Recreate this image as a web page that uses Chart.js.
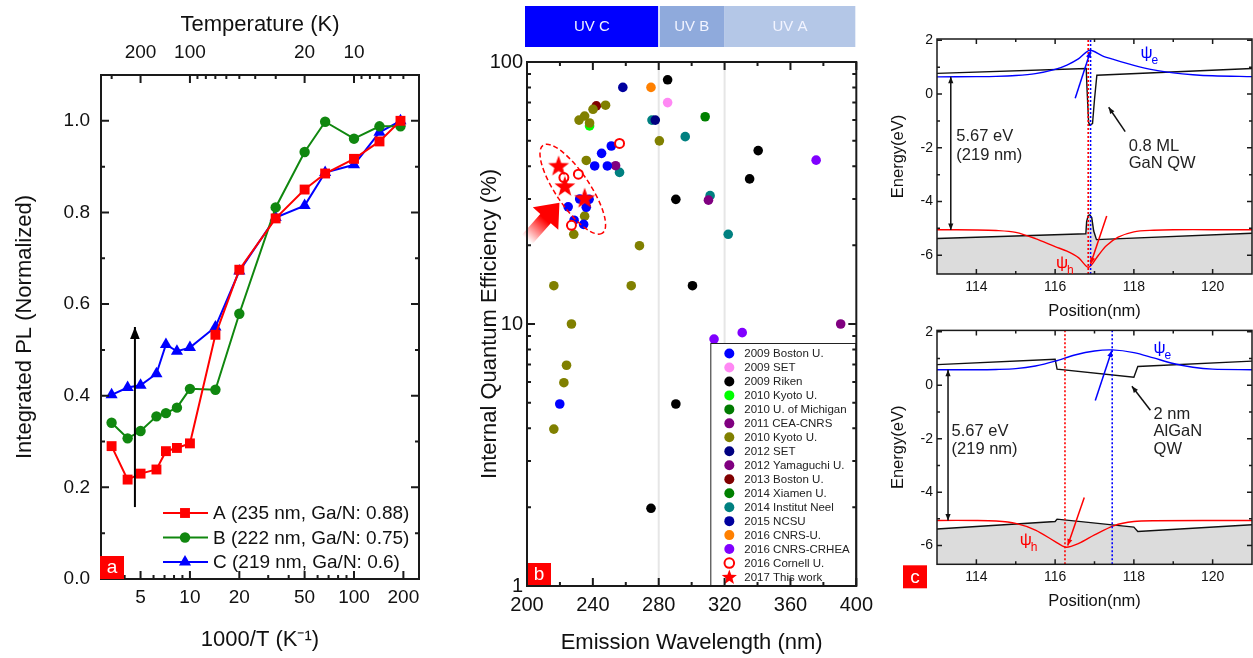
<!DOCTYPE html>
<html>
<head>
<meta charset="utf-8">
<script src="https://cdn.jsdelivr.net/npm/chart.js@4.4.1/dist/chart.umd.min.js"></script>
<style>
  body { margin: 0; background: #fff; width: 1253px; height: 658px; overflow: hidden; position: relative; }
  canvas { position: absolute; }
</style>
</head>
<body>
<canvas id="panelA" width="450" height="658" style="left:0;top:0"></canvas>
<canvas id="panelB" width="430" height="658" style="left:450px;top:0"></canvas>
<canvas id="panelC1" width="373" height="330" style="left:880px;top:0"></canvas>
<canvas id="panelC2" width="373" height="340" style="left:880px;top:318px"></canvas>
<script>
// ---------- panel (a): integrated PL vs 1000/T ----------
const invT = [3.33, 4.17, 5.0, 6.25, 7.14, 8.33, 10, 14.3, 20, 33.3, 50, 66.7, 100, 143, 192];
const plSampleA = [0.290, 0.217, 0.230, 0.239, 0.279, 0.286, 0.296, 0.533, 0.675, 0.787, 0.850, 0.885, 0.917, 0.955, 1.000];
const plSampleB = [0.341, 0.307, 0.323, 0.355, 0.362, 0.374, 0.415, 0.413, 0.579, 0.811, 0.932, 0.998, 0.961, 0.988, 0.988];
const plSampleC = [0.402, 0.418, 0.423, 0.448, 0.512, 0.497, 0.505, 0.550, 0.672, 0.789, 0.815, 0.887, 0.904, 0.975, 1.000];
const invTickMajor = [5, 10, 20, 50, 100, 200];
const invTickMinor = [3, 4, 6, 7, 8, 9, 30, 40, 60, 70, 80, 90];
const tempTickMajor = [200, 100, 20, 10];
const tempTickMinor = [300, 90, 80, 70, 60, 50, 40, 30, 9, 8, 7, 6, 5];
const plTickMajor = [0, 0.2, 0.4, 0.6, 0.8, 1.0];
const plTickMinor = [0.1, 0.3, 0.5, 0.7, 0.9];
const tempArrow = {x: 4.62, from: 0.157, to: 0.55};

// ---------- panel (b): IQE vs emission wavelength ----------
const boston2009 = [[251.2, 47.8], [245.3, 44.8], [241.1, 40.1], [248.8, 40.1], [232, 30], [237.7, 29.9], [225, 28], [236, 27.9], [228.6, 24.9], [234.4, 24], [219.9, 4.95]];
const set2009 = [[285.4, 70]];
const riken2009 = [[285.4, 85.5], [340.4, 45.9], [335.2, 35.8], [290.4, 29.9], [300.5, 14], [290.4, 4.95], [275.3, 1.98]];
const kyoto2010a = [[238, 57]];
const michigan2010 = [];
const cea2011 = [[310.2, 29.7]];
const kyoto2010b = [[247.7, 68.4], [240.1, 66], [235, 62.2], [231.6, 60], [238, 58.5], [280.4, 50], [236, 42.1], [235, 25.8], [228.4, 22], [268.3, 19.9], [216.3, 14], [263.3, 14], [227, 10], [224, 6.96], [222.4, 5.97], [216.3, 3.97]];
const set2012 = [[277.9, 60]];
const yamaguchi2012 = [[253.8, 40.2], [390.5, 10]];
const boston2013 = [[242.1, 68]];
const xiamen2014 = [[308.2, 61.8]];
const neel2014 = [[275.9, 60], [296.1, 51.9], [256.2, 37.9], [311.2, 30.9], [322.2, 22]];
const ncsu2015 = [[258.2, 80]];
const cnrsU2016 = [[275.3, 80]];
const crhea2016 = [[375.6, 42.2], [330.7, 9.27], [313.6, 8.76]];
const cornell2016 = [[256.2, 48.9], [222.4, 36.2], [231.2, 37.3], [227, 23.8]];
const thisWork2017 = [[219.2, 40.2], [223, 33.6], [235, 30.3]];
const waveTickMajor = [200, 240, 280, 320, 360, 400];
const waveTickMinor = [220, 260, 300, 340, 380];
const iqeTickMajor = [1, 10, 100];
const iqeTickMinor = [2, 3, 4, 5, 6, 7, 8, 9, 20, 30, 40, 50, 60, 70, 80, 90];
const uvBands = [['UV C', 200, 280, '#0000ff'], ['UV B', 280, 320, '#8faadc'], ['UV A', 320, 400, '#b4c7e7']];
const uvEdges = [280, 320];
const ellipseCentre = [227.8, 32.7];
const bigArrow = {from: [200, 21], to: [219.7, 29]};

// ---------- panel (c): band diagrams ----------
const gcPos = [113, 116.79, 116.81, 116.85, 116.88, 116.95, 117.0, 117.06, 121];
const gcBand = [0.77, 0.95, 0.2, -1.05, -1.15, -1.1, -0.2, 0.70, 0.95];
const gvPos = [113, 116.78, 116.80, 116.84, 116.88, 116.93, 116.98, 117.05, 121];
const gvBand = [-5.38, -5.2, -4.75, -4.52, -4.5, -4.6, -5.1, -5.42, -5.18];
const gePos = [113, 114, 114.5, 115, 115.5, 116, 116.3, 116.6, 116.88, 117.2, 117.5, 118, 118.5, 119, 119.5, 120, 121];
const gePsi = [0.64, 0.65, 0.66, 0.69, 0.76, 0.92, 1.08, 1.32, 1.63, 1.42, 1.28, 1.07, 0.9, 0.79, 0.72, 0.68, 0.65];
const ghPos = [113, 114, 114.5, 115, 115.5, 116, 116.3, 116.6, 116.85, 117.1, 117.3, 117.6, 118, 118.5, 119, 120, 121];
const ghPsi = [-5.05, -5.06, -5.08, -5.15, -5.38, -5.68, -5.85, -6.1, -6.45, -6.0, -5.65, -5.33, -5.13, -5.07, -5.05, -5.05, -5.05];
const gDotted = [116.84, 116.9];

const acPos = [113, 116.0, 116.05, 118.0, 118.1, 121];
const acBand = [0.77, 0.97, 0.6, 0.30, 0.70, 0.90];
const avPos = [113, 116.0, 116.05, 118.0, 118.1, 121];
const avBand = [-5.38, -5.1, -5.01, -5.31, -5.47, -5.22];
const aePos = [113, 114, 114.5, 115, 115.5, 116, 116.5, 117, 117.45, 118, 118.5, 119, 119.5, 120, 121];
const aePsi = [0.58, 0.58, 0.59, 0.62, 0.72, 0.9, 1.13, 1.28, 1.32, 1.22, 1.02, 0.81, 0.67, 0.6, 0.58];
const ahPos = [113, 114, 114.5, 115, 115.5, 116, 116.27, 116.6, 117, 117.5, 118, 118.5, 121];
const ahPsi = [-5.06, -5.06, -5.08, -5.17, -5.42, -5.85, -6.06, -5.92, -5.6, -5.25, -5.1, -5.07, -5.06];
const aDotted = [116.25, 117.45];

const posTickMajor = [114, 116, 118, 120];
const posTickMinor = [115, 117, 119];
const energyTickMajor = [-6, -4, -2, 0, 2];
const energyTickMinor = [-5, -3, -1, 1];

const FONT = "'Liberation Sans', Arial, Helvetica, sans-serif";
Chart.defaults.font.family = FONT;
Chart.defaults.color = '#111';

const pts = (xs, ys) => xs.map((x, i) => ({x, y: ys[i]}));
const pairs = (arr) => arr.map(([x, y]) => ({x, y}));
const tickList = (vals) => (s) => { s.ticks = vals.map((v) => ({value: v})); };

// frame round the plot area with inward major/minor ticks on all four sides
function boxTicks(cfg) {
	return {
		id: 'boxTicks',
		afterDatasetsDraw(chart) {
			const {ctx, chartArea: a, scales} = chart;
			const sx = scales.x, sy = scales.y;
			ctx.save();
			ctx.strokeStyle = '#1a1a1a';
			ctx.lineWidth = cfg.lw;
			ctx.beginPath();
			const vert = (vals, len, y0, dir) => vals.forEach((v) => {
				const p = sx.getPixelForValue(v);
				ctx.moveTo(p, y0);
				ctx.lineTo(p, y0 + dir * len);
			});
			const horz = (vals, len) => vals.forEach((v) => {
				const p = sy.getPixelForValue(v);
				ctx.moveTo(a.left, p);
				ctx.lineTo(a.left + len, p);
				ctx.moveTo(a.right, p);
				ctx.lineTo(a.right - len, p);
			});
			const top = cfg.xTop || cfg.x;
			vert(cfg.x.major, cfg.major, a.bottom, -1);
			vert(cfg.x.minor, cfg.minor, a.bottom, -1);
			vert(top.major, cfg.major, a.top, 1);
			vert(top.minor, cfg.minor, a.top, 1);
			horz(cfg.y.major, cfg.major);
			horz(cfg.y.minor, cfg.minor);
			ctx.stroke();
			ctx.strokeRect(a.left, a.top, a.right - a.left, a.bottom - a.top);
			ctx.restore();
		},
	};
}

function marker(ctx, style, x, y, r) {
	ctx.beginPath();
	if (style === 'rect') {
		const h = r * Math.SQRT1_2;
		ctx.rect(x - h, y - h, 2 * h, 2 * h);
	} else if (style === 'triangle') {
		ctx.moveTo(x, y - r);
		ctx.lineTo(x + r * 0.866, y + r * 0.5);
		ctx.lineTo(x - r * 0.866, y + r * 0.5);
		ctx.closePath();
	} else {
		ctx.arc(x, y, r, 0, Math.PI * 2);
	}
}

function starPath(ctx, cx, cy, R, r) {
	ctx.beginPath();
	for (let i = 0; i < 10; i++) {
		const rad = i % 2 ? r : R;
		const ang = -Math.PI / 2 + (i * Math.PI) / 5;
		ctx.lineTo(cx + rad * Math.cos(ang), cy + rad * Math.sin(ang));
	}
	ctx.closePath();
}

function arrow(ctx, x1, y1, x2, y2, color, head, lw, both) {
	const ang = Math.atan2(y2 - y1, x2 - x1);
	ctx.strokeStyle = color;
	ctx.fillStyle = color;
	ctx.lineWidth = lw;
	ctx.beginPath();
	ctx.moveTo(x1, y1);
	ctx.lineTo(x2, y2);
	ctx.stroke();
	const tip = (x, y, a) => {
		ctx.beginPath();
		ctx.moveTo(x, y);
		ctx.lineTo(x - head * Math.cos(a - 0.38), y - head * Math.sin(a - 0.38));
		ctx.lineTo(x - head * Math.cos(a + 0.38), y - head * Math.sin(a + 0.38));
		ctx.closePath();
		ctx.fill();
	};
	tip(x2, y2, ang);
	if (both) tip(x1, y1, ang + Math.PI);
}

function letterBox(ctx, letter, x, y) {
	ctx.fillStyle = '#ff0000';
	ctx.fillRect(x, y, 24, 23);
	ctx.fillStyle = '#fff';
	ctx.font = '19px ' + FONT;
	ctx.textAlign = 'center';
	ctx.textBaseline = 'middle';
	ctx.fillText(letter, x + 12, y + 12);
}

const quiet = {legend: {display: false}, tooltip: {enabled: false}};

// ================= panel (a) =================
const aLegend = {
	id: 'aLegend',
	afterDatasetsDraw(chart) {
		const {ctx, chartArea: a, scales} = chart;
		ctx.save();
		// vertical black arrow
		const ax = scales.x.getPixelForValue(tempArrow.x);
		arrow(ctx, ax, scales.y.getPixelForValue(tempArrow.from), ax, scales.y.getPixelForValue(tempArrow.to), '#000', 13, 2, false);
		// legend rows
		chart.data.datasets.forEach((ds, i) => {
			const y = a.bottom - 66 + i * 24.5;
			const x0 = a.left + 62;
			ctx.strokeStyle = ds.borderColor;
			ctx.fillStyle = ds.borderColor;
			ctx.lineWidth = 2;
			ctx.beginPath();
			ctx.moveTo(x0, y);
			ctx.lineTo(x0 + 45, y);
			ctx.stroke();
			marker(ctx, ds.pointStyle, x0 + 22, y, ds.pointRadius);
			ctx.fill();
			ctx.font = '19px ' + FONT;
			ctx.fillStyle = '#111';
			ctx.textAlign = 'left';
			ctx.textBaseline = 'middle';
			ctx.fillText(ds.label, x0 + 50, y + 1);
		});
		letterBox(ctx, 'a', a.left - 1, a.bottom - 23);
		ctx.restore();
	},
};

new Chart(document.getElementById('panelA'), {
	type: 'line',
	data: {
		datasets: [
			{label: 'A (235 nm, Ga/N: 0.88)', data: pts(invT, plSampleA), borderColor: '#ff0000', backgroundColor: '#ff0000', pointStyle: 'rect', pointRadius: 7, borderWidth: 2, pointBorderWidth: 0},
			{label: 'B (222 nm, Ga/N: 0.75)', data: pts(invT, plSampleB), borderColor: '#10870f', backgroundColor: '#10870f', pointStyle: 'circle', pointRadius: 5.2, borderWidth: 2, pointBorderWidth: 0},
			{label: 'C (219 nm, Ga/N: 0.6)', data: pts(invT, plSampleC), borderColor: '#0000ff', backgroundColor: '#0000ff', pointStyle: 'triangle', pointRadius: 7, borderWidth: 2, pointBorderWidth: 0},
		],
	},
	options: {
		responsive: false,
		animation: false,
		devicePixelRatio: 1,
		layout: {padding: {right: 31}},
		plugins: quiet,
		scales: {
			x: {
				type: 'logarithmic', position: 'bottom', min: 2.87, max: 249,
				grid: {display: false, drawTicks: false}, border: {display: false},
				afterBuildTicks: tickList(invTickMajor),
				ticks: {autoSkip: false, maxRotation: 0, padding: 7.6, font: {size: 19}, callback: (v) => String(v)},
				title: {display: true, text: '1000/T (K⁻¹)', font: {size: 22}, padding: {top: 0, bottom: 4.8}},
				afterFit: (s) => { s.height = 79; },
			},
			xTop: {
				type: 'logarithmic', position: 'top', min: 2.87, max: 249,
				grid: {display: false, drawTicks: false}, border: {display: false},
				afterBuildTicks: tickList(tempTickMajor.map((t) => 1000 / t)),
				ticks: {autoSkip: false, maxRotation: 0, padding: 10.9, font: {size: 19}, callback: (v) => String(Math.round(1000 / v))},
				title: {display: true, text: 'Temperature (K)', font: {size: 22}, padding: {top: 11.8, bottom: 0}},
				afterFit: (s) => { s.height = 75; },
			},
			y: {
				min: 0, max: 1.1,
				grid: {display: false, drawTicks: false}, border: {display: false},
				afterBuildTicks: tickList(plTickMajor),
				ticks: {padding: 11, font: {size: 19}, callback: (v) => v.toFixed(1)},
				title: {display: true, text: 'Integrated PL (Normalized)', font: {size: 22}, padding: {top: 11.8, bottom: 0}},
				afterFit: (s) => { s.width = 101; },
			},
		},
	},
	plugins: [
		boxTicks({
			x: {major: invTickMajor, minor: invTickMinor},
			xTop: {major: tempTickMajor.map((t) => 1000 / t), minor: tempTickMinor.map((t) => 1000 / t)},
			y: {major: plTickMajor, minor: plTickMinor},
			major: 8, minor: 4, lw: 2,
		}),
		aLegend,
	],
});

// ================= panel (b) =================
const starImg = document.createElement('canvas');
starImg.width = 24;
starImg.height = 24;
{
	const c = starImg.getContext('2d');
	c.fillStyle = '#ff0000';
	starPath(c, 12, 12.8, 11, 4.5);
	c.fill();
}

const iqeGroups = [
	['2009 Boston U.', boston2009, '#0000ff'],
	['2009 SET', set2009, '#ff88f4'],
	['2009 Riken', riken2009, '#000000'],
	['2010 Kyoto U.', kyoto2010a, '#00ff00'],
	['2010 U. of Michigan', michigan2010, '#007a00'],
	['2011 CEA-CNRS', cea2011, '#800080'],
	['2010 Kyoto U.', kyoto2010b, '#808000'],
	['2012 SET', set2012, '#000080'],
	['2012 Yamaguchi U.', yamaguchi2012, '#800080'],
	['2013 Boston U.', boston2013, '#800000'],
	['2014 Xiamen U.', xiamen2014, '#008000'],
	['2014 Institut Neel', neel2014, '#008080'],
	['2015 NCSU', ncsu2015, '#00009e'],
	['2016 CNRS-U.', cnrsU2016, '#ff8000'],
	['2016 CNRS-CRHEA', crhea2016, '#8000ff'],
];

const bDatasets = iqeGroups.map(([label, arr, color]) => ({
	label, data: pairs(arr), backgroundColor: color, borderColor: color,
	pointRadius: 4.8, pointBorderWidth: 0, order: color === '#00ff00' ? 1 : 0,
}));
bDatasets.push({label: '2016 Cornell U.', data: pairs(cornell2016), backgroundColor: '#fff', borderColor: '#ff0000', pointRadius: 4.5, pointBorderWidth: 2, order: -1});
bDatasets.push({label: '2017 This work', data: pairs(thisWork2017), backgroundColor: '#ff0000', borderColor: '#ff0000', pointStyle: starImg, order: -2});

const bDecor = {
	id: 'bDecor',
	beforeDatasetsDraw(chart) {
		const {ctx, chartArea: a, scales} = chart;
		ctx.save();
		ctx.strokeStyle = '#e6e6e6';
		ctx.lineWidth = 2;
		uvEdges.forEach((w) => {
			const p = scales.x.getPixelForValue(w);
			ctx.beginPath();
			ctx.moveTo(p, a.top);
			ctx.lineTo(p, a.bottom);
			ctx.stroke();
		});
		// UV band strip above the plot
		uvBands.forEach(([name, from, to, color]) => {
			const x1 = scales.x.getPixelForValue(from) - (from === 200 ? 2 : 0);
			const x2 = scales.x.getPixelForValue(to) - (to === 400 ? 1 : 0);
			ctx.fillStyle = color;
			ctx.fillRect(x1, 6, x2 - x1, 41);
			ctx.fillStyle = '#f2f4ff';
			ctx.font = '15px ' + FONT;
			ctx.textAlign = 'center';
			ctx.textBaseline = 'middle';
			ctx.fillText(name, (x1 + x2) / 2, 27);
		});
		const sep = scales.x.getPixelForValue(280);
		ctx.fillStyle = '#fff';
		ctx.fillRect(sep - 0.5, 6, 1.5, 41);
		ctx.restore();
	},
	afterDatasetsDraw(chart) {
		const {ctx, chartArea: a, scales} = chart;
		ctx.save();
		// dashed ellipse round this work
		ctx.strokeStyle = '#ff0000';
		ctx.lineWidth = 1.5;
		ctx.setLineDash([5, 3]);
		ctx.beginPath();
		ctx.ellipse(scales.x.getPixelForValue(ellipseCentre[0]), scales.y.getPixelForValue(ellipseCentre[1]), 53, 17, (56 * Math.PI) / 180, 0, Math.PI * 2);
		ctx.stroke();
		ctx.setLineDash([]);
		// big faded red arrow
		const tx = scales.x.getPixelForValue(bigArrow.from[0]), ty = scales.y.getPixelForValue(bigArrow.from[1]);
		const hx = scales.x.getPixelForValue(bigArrow.to[0]), hy = scales.y.getPixelForValue(bigArrow.to[1]);
		const len = Math.hypot(hx - tx, hy - ty);
		const ux = (hx - tx) / len, uy = (hy - ty) / len, nx = -uy, ny = ux;
		const nk = [hx - ux * 21, hy - uy * 21];
		const grad = ctx.createLinearGradient(tx, ty, hx, hy);
		grad.addColorStop(0, 'rgba(255,0,0,0)');
		grad.addColorStop(0.55, 'rgba(255,0,0,1)');
		grad.addColorStop(1, 'rgba(255,0,0,1)');
		ctx.fillStyle = grad;
		ctx.beginPath();
		ctx.moveTo(tx + nx * 7, ty + ny * 7);
		ctx.lineTo(nk[0] + nx * 7, nk[1] + ny * 7);
		ctx.lineTo(nk[0] + nx * 17, nk[1] + ny * 17);
		ctx.lineTo(hx, hy);
		ctx.lineTo(nk[0] - nx * 17, nk[1] - ny * 17);
		ctx.lineTo(nk[0] - nx * 7, nk[1] - ny * 7);
		ctx.lineTo(tx - nx * 7, ty - ny * 7);
		ctx.closePath();
		ctx.fill();
		// legend box
		const bw = 145, bh = 242;
		const bx = a.right - bw - 1, by = a.bottom - bh - 1;
		ctx.fillStyle = '#fff';
		ctx.fillRect(bx, by, bw, bh);
		ctx.strokeStyle = '#222';
		ctx.lineWidth = 1;
		ctx.strokeRect(bx + 0.5, by + 0.5, bw, bh);
		chart.data.datasets.forEach((ds, i) => {
			const y = by + 10.5 + i * 13.97;
			const mx = bx + 19;
			if (ds.pointStyle === starImg) {
				ctx.fillStyle = '#ff0000';
				starPath(ctx, mx, y + 0.5, 8, 3.3);
				ctx.fill();
			} else if (ds.pointBorderWidth === 2) {
				ctx.strokeStyle = '#ff0000';
				ctx.lineWidth = 2;
				marker(ctx, 'circle', mx, y, 4.8);
				ctx.stroke();
			} else {
				ctx.fillStyle = ds.backgroundColor;
				marker(ctx, 'circle', mx, y, 5);
				ctx.fill();
			}
			ctx.fillStyle = '#222';
			ctx.font = '11.5px ' + FONT;
			ctx.textAlign = 'left';
			ctx.textBaseline = 'middle';
			ctx.fillText(ds.label, bx + 34, y + 0.5);
		});
		letterBox(ctx, 'b', a.left, a.bottom - 23);
		ctx.restore();
	},
};

new Chart(document.getElementById('panelB'), {
	type: 'scatter',
	data: {datasets: bDatasets},
	options: {
		responsive: false,
		animation: false,
		devicePixelRatio: 1,
		layout: {padding: {top: 62, right: 22}},
		plugins: quiet,
		scales: {
			x: {
				type: 'linear', min: 200, max: 400,
				grid: {display: false, drawTicks: false}, border: {display: false},
				afterBuildTicks: tickList(waveTickMajor),
				ticks: {autoSkip: false, maxRotation: 0, padding: 7, font: {size: 20}},
				title: {display: true, text: 'Emission Wavelength (nm)', font: {size: 22}, padding: {top: 0, bottom: 1.8}},
				afterFit: (s) => { s.height = 72; },
			},
			y: {
				type: 'logarithmic', min: 1, max: 100,
				grid: {display: false, drawTicks: false}, border: {display: false},
				afterBuildTicks: tickList(iqeTickMajor),
				ticks: {padding: 4, font: {size: 20}, callback: (v) => String(v)},
				title: {display: true, text: 'Internal Quantum Efficiency (%)', font: {size: 22}, padding: {top: 27, bottom: 0}},
				afterFit: (s) => { s.width = 77; },
			},
		},
	},
	plugins: [
		bDecor,
		boxTicks({
			x: {major: waveTickMajor, minor: waveTickMinor},
			y: {major: iqeTickMajor, minor: iqeTickMinor},
			major: 8, minor: 4, lw: 2,
		}),
	],
});

// ================= panel (c) =================
function bandChart(canvasId, d) {
	const decor = {
		id: 'cDecor',
		afterDatasetsDraw(chart) {
			const {ctx, chartArea: a, scales} = chart;
			const px = (x) => scales.x.getPixelForValue(x);
			const py = (y) => scales.y.getPixelForValue(y);
			ctx.save();
			d.arrows.forEach(([x1, y1, x2, y2, color, both]) => {
				arrow(ctx, px(x1), py(y1), px(x2), py(y2), color, 7, 1.5, both);
			});
			ctx.fillStyle = '#222';
			ctx.font = '16.5px ' + FONT;
			ctx.textAlign = 'left';
			ctx.textBaseline = 'middle';
			d.notes.forEach(([t, x, y]) => ctx.fillText(t, px(x), py(y)));
			d.psi.forEach(([sub, x, y, color]) => {
				ctx.fillStyle = color;
				ctx.font = '17px ' + FONT;
				ctx.fillText('ψ', px(x), py(y));
				ctx.font = '12px ' + FONT;
				ctx.fillText(sub, px(x) + 11, py(y) + 7);
			});
			if (d.letter) letterBox(ctx, d.letter, a.left - 34, a.bottom + 1);
			ctx.restore();
		},
	};
	new Chart(document.getElementById(canvasId), {
		type: 'line',
		data: {
			datasets: [
				{data: pts([d.dotPos[0], d.dotPos[0]], [-6.7, 2.05]), borderColor: '#ff0000', borderDash: [2, 2], borderWidth: 1.6, pointRadius: 0, order: -2},
				{data: pts([d.dotPos[1], d.dotPos[1]], [-6.7, 2.05]), borderColor: '#0000ff', borderDash: [2, 2], borderWidth: 1.6, pointRadius: 0, order: -3},
				{data: pts(d.cPos, d.cBand), borderColor: '#111', borderWidth: 1.4, pointRadius: 0, order: 1},
				{data: pts(d.vPos, d.vBand), borderColor: '#111', borderWidth: 1.4, pointRadius: 0, fill: 'start', backgroundColor: '#dcdcdc', order: 5},
				{data: pts(d.ePos, d.ePsi), borderColor: '#0000ff', borderWidth: 1.4, pointRadius: 0, tension: 0.3, order: 0},
				{data: pts(d.hPos, d.hPsi), borderColor: '#ff0000', borderWidth: 1.4, pointRadius: 0, tension: 0.3, order: 0},
			],
		},
		options: {
			responsive: false,
			animation: false,
			devicePixelRatio: 1,
			layout: {padding: {top: d.top, right: 1}},
			plugins: quiet,
			scales: {
				x: {
					type: 'linear', min: 113, max: 121,
					grid: {display: false, drawTicks: false}, border: {display: false},
					afterBuildTicks: tickList(posTickMajor),
					ticks: {autoSkip: false, maxRotation: 0, padding: d.tickPad, font: {size: 14}},
					title: {display: true, text: 'Position(nm)', font: {size: 16.5}, padding: {top: 0, bottom: d.titlePad}},
					afterFit: (s) => { s.height = d.xHeight; },
				},
				y: {
					min: -6.7, max: 2.05,
					grid: {display: false, drawTicks: false}, border: {display: false},
					afterBuildTicks: tickList(energyTickMajor),
					ticks: {padding: 4, font: {size: 14}},
					title: {display: true, text: 'Energy(eV)', font: {size: 16.5}, padding: {top: 8.1, bottom: 0}},
					afterFit: (s) => { s.width = 57; },
				},
			},
		},
		plugins: [
			boxTicks({
				x: {major: posTickMajor, minor: posTickMinor},
				y: {major: energyTickMajor, minor: energyTickMinor},
				major: 5, minor: 3, lw: 1.5,
			}),
			decor,
		],
	});
}

bandChart('panelC1', {
	cPos: gcPos, cBand: gcBand, vPos: gvPos, vBand: gvBand,
	ePos: gePos, ePsi: gePsi, hPos: ghPos, hPsi: ghPsi, dotPos: gDotted,
	top: 39, xHeight: 56, tickPad: 4.6, titlePad: 8.4,
	arrows: [
		[113.35, 0.64, 113.35, -5.06, '#111', true],
		[116.51, -0.16, 116.9, 1.6, '#0000ff', false],
		[117.31, -4.54, 116.9, -6.33, '#ff0000', false],
		[117.78, -1.4, 117.36, -0.49, '#111', false],
	],
	notes: [['5.67 eV', 113.49, -1.59], ['(219 nm)', 113.49, -2.27], ['0.8 ML', 117.87, -1.96], ['GaN QW', 117.87, -2.58]],
	psi: [['e', 118.17, 1.5, '#0000ff'], ['h', 116.02, -6.3, '#ff0000']],
});

bandChart('panelC2', {
	cPos: acPos, cBand: acBand, vPos: avPos, vBand: avBand,
	ePos: aePos, ePsi: aePsi, hPos: ahPos, hPsi: ahPsi, dotPos: aDotted,
	top: 10.5, xHeight: 93.7, tickPad: 4.3, titlePad: 46.4,
	arrows: [
		[113.28, 0.58, 113.28, -5.06, '#111', true],
		[117.02, -0.57, 117.44, 1.3, '#0000ff', false],
		[116.74, -4.2, 116.32, -6.0, '#ff0000', false],
		[118.42, -0.94, 117.95, -0.04, '#111', false],
	],
	notes: [['5.67 eV', 113.37, -1.74], ['(219 nm)', 113.37, -2.39], ['2 nm', 118.5, -1.09], ['AlGaN', 118.5, -1.73], ['QW', 118.5, -2.39]],
	psi: [['e', 118.5, 1.38, '#0000ff'], ['h', 115.1, -5.8, '#ff0000']],
	letter: 'c',
});
</script>
</body>
</html>
